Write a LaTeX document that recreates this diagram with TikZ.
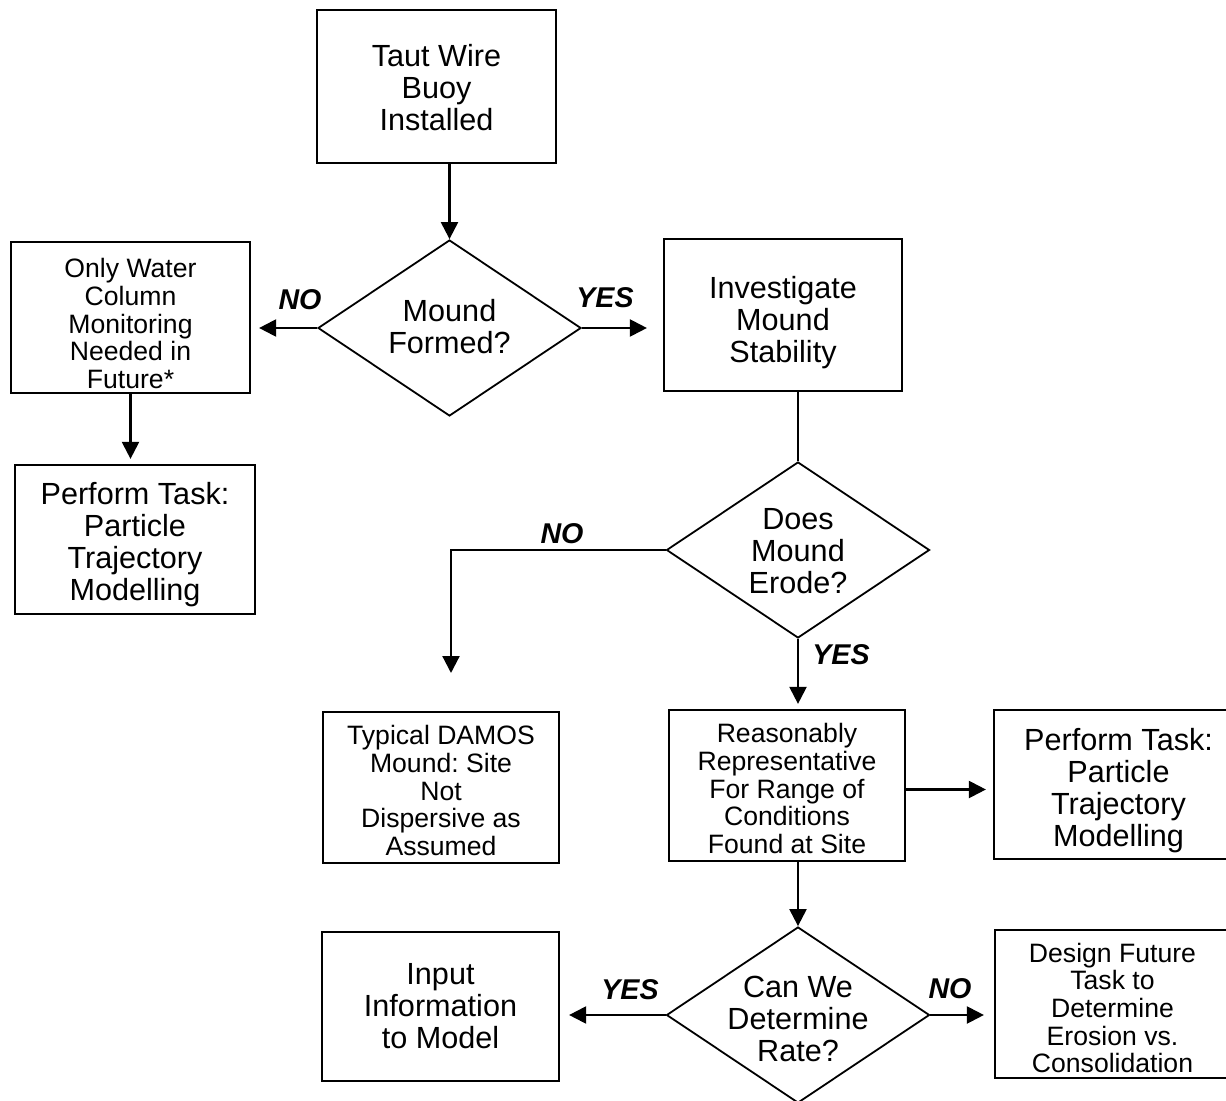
\documentclass[tikz,border=0pt]{standalone}
\usepackage{fontspec}
\setmainfont{Liberation Sans}
\frenchspacing
\usetikzlibrary{shapes.geometric,arrows.meta,calc}
\newcommand\bigf{\fontsize{15.3}{16}\selectfont}
\newcommand\smallf{\fontsize{13.3}{13.8}\selectfont}
\newcommand\labf{\fontsize{14.3}{15}\selectfont\bfseries\itshape}
\tikzset{
  box/.style={draw, line width=1.1pt, inner sep=0pt},
  sz/.style 2 args={minimum width=#1*0.5pt, minimum height=#2*0.5pt},
  btext/.style={align=center, font=\bigf, inner sep=0pt},
  stext/.style={btext, font=\smallf},
  dia/.style={draw, diamond, line width=0.9pt, inner sep=0pt,
    minimum width=263*0.5pt, minimum height=176*0.5pt},
  lab/.style={font=\labf, inner sep=0pt},
  conn/.style={line width=1.1pt},
  arr/.style={conn, -{Triangle[length=8.5pt,width=8.5pt]}},
}
\begin{document}
\begin{tikzpicture}[x=0.5pt,y=-0.5pt]
\useasboundingbox (0,0) rectangle (1226,1101);
\fill[white] (0,0) rectangle (1226,1101);
\clip (0,0) rectangle (1226,1101);

% boxes
\node[box, sz={239}{153}] (b1) at (436.5,86.5) {};
\node[btext] (b1t) at ($(b1)+(0,1)$) {Taut Wire\\Buoy\\Installed};
\node[box, sz={239}{151}] (b2) at (130.5,317.5) {};
\node[stext] (b2t) at ($(b2)+(0,6)$) {Only Water\\Column\\Monitoring\\Needed in\\Future*};
\node[box, sz={240}{149}] (b3) at (135,539.5) {};
\node[btext] (b3t) at ($(b3)+(0,5)$) {Perform Task:\\Particle\\Trajectory\\Modelling};
\node[box, sz={238}{152}] (b4) at (783,315) {};
\node[btext] (b4t) at ($(b4)+(0,8)$) {Investigate\\Mound\\Stability};
\node[box, sz={236}{151}] (b5) at (441,787.5) {};
\node[stext] (b5t) at ($(b5)+(0,3)$) {Typical DAMOS\\Mound: Site\\Not\\Dispersive as\\Assumed};
\node[box, sz={236}{151}] (b6) at (787,785.5) {};
\node[stext] (b6t) at ($(b6)+(0,3)$) {Reasonably\\Representative\\For Range of\\Conditions\\Found at Site};
\node[box, sz={249}{149}] (b7) at (1118.5,784.5) {};
\node[btext] (b7t) at ($(b7)+(0,6)$) {Perform Task:\\Particle\\Trajectory\\Modelling};
\node[box, sz={237}{149}] (b8) at (440.5,1006.5) {};
\node[btext] (b8t) at ($(b8)+(0,0)$) {Input\\Information\\to Model};
\node[box, sz={235}{148}] (b9) at (1112.5,1004) {};
\node[stext] (b9t) at ($(b9)+(0,4)$) {Design Future\\Task to\\Determine\\Erosion vs.\\Consolidation};

% decisions
\node[dia] (d1) at (449.5,328) {};
\node[btext] (d1t) at ($(d1)+(0,-1)$) {Mound\\Formed?};
\node[dia] (d2) at (798,550) {};
\node[btext] (d2t) at ($(d2)+(0,1)$) {Does\\Mound\\Erode?};
\node[dia] (d3) at (798,1015) {};
\node[btext] (d3t) at ($(d3)+(0,4)$) {Can We\\Determine\\Rate?};

% labels
\node[lab] (l1) at (300,300) {NO};
\node[lab] (l2) at (605,298) {YES};
\node[lab] (l3) at (562,534) {NO};
\node[lab] (l4) at (841,655) {YES};
\node[lab] (l5) at (630,990) {YES};
\node[lab] (l6) at (950,989) {NO};

\coordinate (c1) at (451,673);

% connectors
\draw[arr] (d1.north |- b1.south) -- (d1.north);
\draw[arr, shorten >=4pt] (d1.west) -- (d1.west -| b2.east);
\draw[arr, shorten >=2.5pt] (b2.south) -- (b2.south |- b3.north);
\draw[arr, shorten >=8pt] (d1.east) -- (d1.east -| b4.west);
\draw[conn] (d2.north |- b4.south) -- (d2.north);
\draw[arr] (d2.west) -| (c1);
\draw[arr, shorten >=2.5pt] (d2.south) -- (d2.south |- b6.north);
\draw[arr, shorten >=3.5pt] ($(b6.east)+(0,4)$) -- ($(b6.east -| b7.west)+(0,4)$);
\draw[arr] (d3.north |- b6.south) -- (d3.north);
\draw[arr, shorten >=4.5pt] (d3.west) -- (d3.west -| b8.east);
\draw[arr, shorten >=5pt] (d3.east) -- (d3.east -| b9.west);
\end{tikzpicture}
\end{document}
